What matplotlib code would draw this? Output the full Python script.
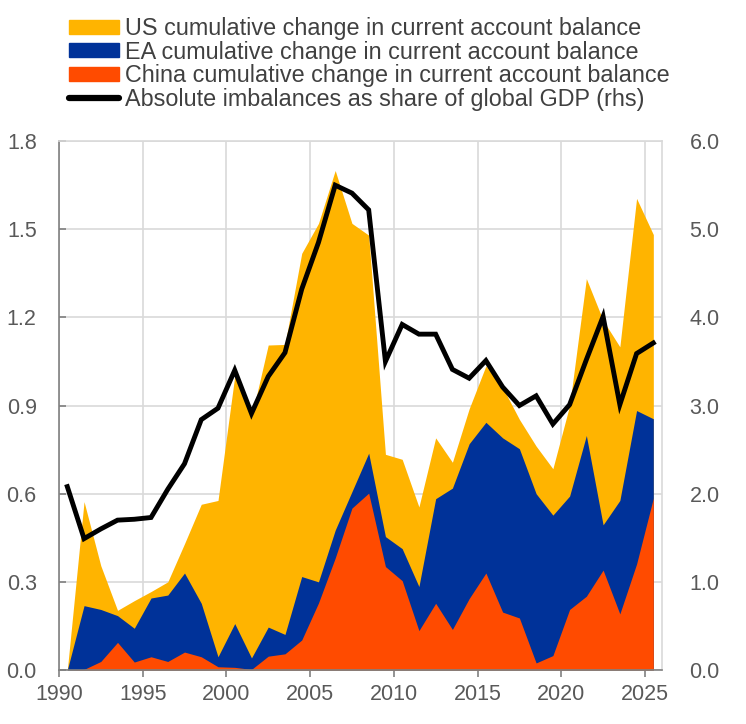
import numpy as np
import matplotlib
matplotlib.use("Agg")
import matplotlib.pyplot as plt
from matplotlib.patches import Patch
from matplotlib.lines import Line2D
from matplotlib.ticker import FormatStrFormatter

plt.rcParams['font.family'] = ['Liberation Sans', 'DejaVu Sans']

# Data (annual, plotted at mid-year)
years = list(range(1990, 2026))

# top levels of each shaded area (lhs)
us_level = [0.0, 0.573, 0.355, 0.203, 0.236, 0.267, 0.300, 0.430, 0.564, 0.577,
            1.00, 0.86, 1.106, 1.108, 1.418, 1.52, 1.70, 1.52, 1.48, 0.734,
            0.717, 0.555, 0.790, 0.707, 0.889, 1.035, 0.962, 0.853, 0.762, 0.685,
            0.90, 1.332, 1.19, 1.10, 1.605, 1.482]
ea_level = [0.0, 0.219, 0.206, 0.185, 0.142, 0.245, 0.255, 0.330, 0.227, 0.045,
            0.158, 0.041, 0.146, 0.121, 0.318, 0.300, 0.476, 0.607, 0.738, 0.454,
            0.413, 0.284, 0.583, 0.619, 0.770, 0.843, 0.790, 0.753, 0.600, 0.527,
            0.592, 0.798, 0.494, 0.577, 0.883, 0.855]
china_level = [0.0, 0.002, 0.029, 0.094, 0.027, 0.045, 0.029, 0.061, 0.045, 0.011,
               0.009, 0.002, 0.047, 0.055, 0.102, 0.228, 0.381, 0.551, 0.602, 0.352,
               0.304, 0.134, 0.227, 0.138, 0.243, 0.330, 0.197, 0.177, 0.024, 0.049,
               0.206, 0.251, 0.340, 0.191, 0.361, 0.585]

# absolute imbalances, % of global GDP (rhs)
imbalances = [2.08, 1.49, 1.60, 1.70, 1.71, 1.73, 2.05, 2.34, 2.84, 2.97,
              3.40, 2.91, 3.33, 3.60, 4.32, 4.85, 5.50, 5.41, 5.22, 3.50,
              3.92, 3.81, 3.81, 3.41, 3.31, 3.51, 3.21, 3.00, 3.11, 2.79,
              3.01, 3.52, 4.01, 3.01, 3.59, 3.71]

labels = ["US cumulative change in current account balance",
          "EA cumulative change in current account balance",
          "China cumulative change in current account balance",
          "Absolute imbalances as share of global GDP (rhs)"]

yellow = "#FFB400"
blue = "#003299"
orange = "#FF4B00"
grid_col = "#d9d9d9"
text_col = "#595959"

x = np.array(years) + 0.5

fig = plt.figure(figsize=(7.46, 7.24), dpi=100)
ax = fig.add_axes([0.079, 0.0746, 0.808, 0.7305])

ax.fill_between(x, 0, us_level, color=yellow, linewidth=0)
ax.fill_between(x, 0, ea_level, color=blue, linewidth=0)
ax.fill_between(x, 0, china_level, color=orange, linewidth=0)

ax.set_xlim(1990, 2026)
ax.set_ylim(0, 1.8)
ax.set_xticks(range(1990, 2026, 5))
ax.set_yticks(np.arange(0, 1.81, 0.3))
ax.yaxis.set_major_formatter(FormatStrFormatter('%.1f'))
ax.grid(True, color=grid_col, linewidth=1.2)
ax.set_axisbelow(True)

for s in ['top', 'right']:
    ax.spines[s].set_color(grid_col)
    ax.spines[s].set_linewidth(1.2)
for s in ['left', 'bottom']:
    ax.spines[s].set_color("#808080")
    ax.spines[s].set_linewidth(1.2)

ax.tick_params(axis='x', direction='out', length=5, width=1.2, color="#808080",
               labelsize=15.5, labelcolor=text_col, pad=5)
ax.tick_params(axis='y', direction='in', length=5, width=1.2, color="#808080",
               labelsize=15.5, labelcolor=text_col, pad=16)

ax2 = ax.twinx()
ax2.plot(x, imbalances, color="black", linewidth=3.5, solid_joinstyle='miter')
ax2.set_ylim(0, 6)
ax2.set_yticks(range(0, 7))
ax2.yaxis.set_major_formatter(FormatStrFormatter('%.1f'))
ax2.tick_params(axis='y', length=0, labelsize=15.5, labelcolor=text_col, pad=20)
for s in ax2.spines.values():
    s.set_visible(False)

handles = [Patch(color=yellow), Patch(color=blue), Patch(color=orange),
           Line2D([0], [0], color="black", linewidth=4.5, solid_capstyle='round')]
leg = fig.legend(handles, labels, loc='upper left',
                 bbox_to_anchor=(69 / 746, 1 - 17 / 724),
                 frameon=False, fontsize=16.8, handlelength=2.15, handleheight=0.55,
                 handletextpad=0.25, labelspacing=0.03, borderaxespad=0,
                 borderpad=0)
for t in leg.get_texts():
    t.set_color("#404040")

fig.savefig("out.png", dpi=100)
